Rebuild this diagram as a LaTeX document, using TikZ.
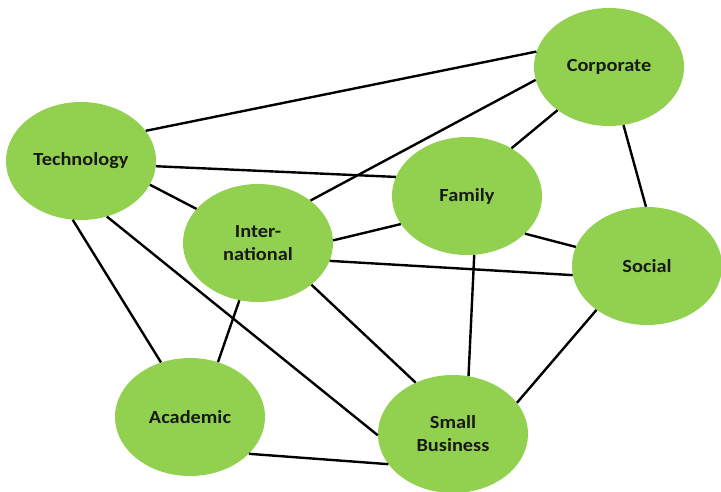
\documentclass[tikz,border=0pt]{standalone}
\usepackage{fontspec}
\setmainfont{Carlito}[FakeStretch=1.1]
\usepackage{tikz}
\usetikzlibrary{positioning,shapes.geometric}
\definecolor{leafgreen}{RGB}{146,208,80}

\begin{document}
\begin{tikzpicture}[
    x=1pt,
    y=-1pt,
    font=\bfseries\fontsize{18.5}{23}\selectfont,
    area/.style={
		ellipse,
		fill=leafgreen,
		draw=none,
		text=black!90,
		align=center,
		inner sep=0pt,
		minimum width=150pt,
		minimum height=118pt
	},
	link/.style={
		draw=black,
		line width=2.4pt
	}
  ]

\useasboundingbox (0,0) rectangle (721,492);

% // the areas
 \node [area] (tech)  at (81,161)  {Technology};
 \node [area] (intl)  at (258,243) {Inter-\\national};
 \node [area] (corp)  at (609,67)  {Corporate};
 \node [area] (fam)   at (467,196) {Family};
 \node [area] (soc)   at (647,266) {Social};
 \node [area] (acad)  at (190,417) {Academic};
 \node [area] (small) at (453,434) {Small\\Business};

% // links from technology
 \draw [link] (tech.25)  -- (corp.168);
 \draw [link] (tech.-4)  -- (fam.165);
 \draw [link] (tech.-19) -- (intl.151);
 \draw [link] (tech.-98) -- (acad.118);
 \draw [link] (tech.-65) -- (small.181);

% // links from international
 \draw [link] (intl.39)   -- (corp.190);
 \draw [link] (intl.2)    -- (fam.203);
 \draw [link] (intl.-14)  -- (soc.187);
 \draw [link] (intl.-108) -- (acad.63);
 \draw [link] (intl.-38)  -- (small.126);

% // the rest
 \draw [link] (fam.47)  -- (corp.220);
 \draw [link] (fam.-33) -- (soc.165);
 \draw [link] (fam.-83) -- (small.75);
 \draw [link] (corp.-76) -- (soc.91);
 \draw [link] (soc.221) -- (small.26);
 \draw [link] (acad.-32) -- (small.205);

\end{tikzpicture}
\end{document}
